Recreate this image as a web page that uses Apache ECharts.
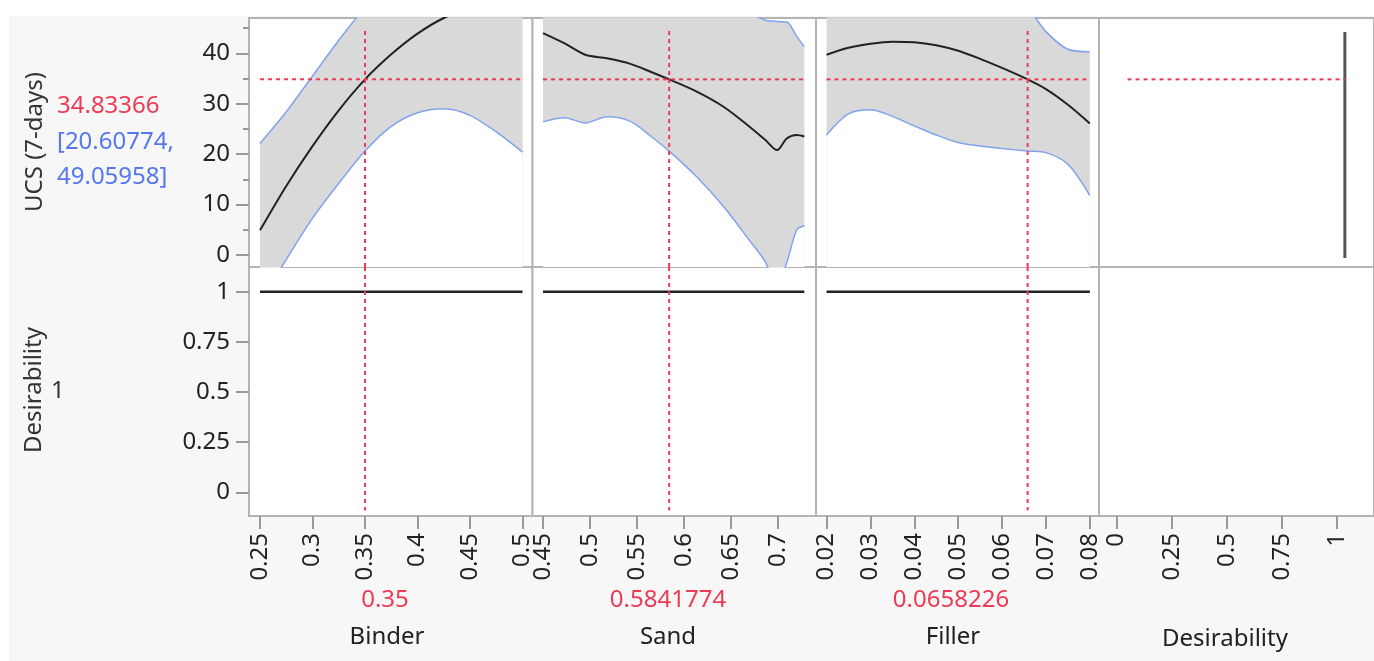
<!DOCTYPE html>
<html><head><meta charset="utf-8">
<script src="https://cdn.jsdelivr.net/npm/echarts@6/dist/echarts.min.js"></script>
<style>
html,body{margin:0;padding:0;background:#fff}
#wrap{position:relative;width:1374px;height:661px}
#bg{position:absolute;left:9px;top:16px;width:1365px;height:645px;background:#f7f7f7}
#c{position:absolute;left:0;top:0;width:1374px;height:661px}
</style>
</head><body><div id="wrap"><div id="bg"></div><div id="c"></div></div><script>
// ---------------- data ----------------
const factorNames = ['Binder', 'Sand', 'Filler', 'Desirability'];
const currentX = [0.35, 0.5841774, 0.0658226];
const currentXText = ['0.35', '0.5841774', '0.0658226'];
const currentUCS = 34.83366;
const ucsCI = [20.60774, 49.05958];
const currentDesirability = 1;

const binderX = [0.25, 0.275, 0.3, 0.325, 0.35, 0.375, 0.4, 0.425, 0.45, 0.475, 0.5];
const binderPred = [4.9, 13.7, 21.6, 28.7, 34.83, 39.8, 43.9, 47.0, 49.0, 50.2, 50.3];
const binderLower = [-9.2, -0.9, 7.3, 14.2, 20.61, 25.5, 28.2, 29.0, 27.7, 24.4, 20.4];
const binderUpper = [22.1, 28.4, 35.5, 42.6, 49.06, 54.1, 59.6, 65.0, 70.3, 76.0, 80.2];

const sandX = [0.45, 0.4725, 0.495, 0.518, 0.543, 0.565, 0.5842, 0.6135, 0.642, 0.67, 0.686, 0.699, 0.7093, 0.72, 0.728];
const sandPred = [44.0, 42.0, 39.7, 39.0, 37.9, 36.3, 34.83, 32.4, 29.4, 25.4, 22.9, 20.8, 23.1, 23.8, 23.5];
const sandLower = [26.4, 27.2, 26.2, 27.4, 26.5, 23.5, 20.61, 15.5, 9.6, 2.8, -1.2, -6.0, -1.5, 5.0, 5.8];
const sandUpper = [61.6, 56.8, 53.2, 50.6, 49.3, 49.1, 49.06, 49.3, 49.2, 48.0, 46.6, 46.3, 46.2, 43.3, 41.3];

const fillerX = [0.02, 0.025, 0.03, 0.035, 0.04, 0.045, 0.05, 0.055, 0.06, 0.0658, 0.07, 0.075, 0.08];
const fillerPred = [39.7, 41.1, 41.9, 42.3, 42.2, 41.6, 40.5, 38.9, 37.1, 34.83, 32.9, 29.8, 26.1];
const fillerLower = [23.8, 28.0, 28.8, 27.5, 25.6, 23.8, 22.3, 21.6, 21.1, 20.61, 20.3, 18.0, 11.8];
const fillerUpper = [55.6, 54.2, 55.0, 57.1, 58.8, 59.4, 58.7, 56.2, 53.1, 49.06, 44.3, 40.8, 40.3];

// desirability function (response vs desirability)
const desirFnX = [1.035, 1.035];
const desirFnY = [-0.6, 44.2];
const desirRefX = [0.05, 1.035];

// tick labels
const binderTicks = [0.25, 0.3, 0.35, 0.4, 0.45, 0.5];
const sandTicks = [0.45, 0.5, 0.55, 0.6, 0.65, 0.7];
const fillerTicks = [0.02, 0.03, 0.04, 0.05, 0.06, 0.07, 0.08];
const desirXTicks = [0, 0.25, 0.5, 0.75, 1];
const ucsTicks = [0, 10, 20, 30, 40];
const ucsMinorTicks = [5, 15, 25, 35, 45];
const desirYTicks = [0, 0.25, 0.5, 0.75, 1];

// ---------------- layout / style ----------------
const FONT = '"Noto Sans", sans-serif';
const FS = 24;
const RED = '#ee3a55';
const BLUE = '#5577f0';
const BANDLINE = '#7fa3ee';
const FRAME = '#b4b4b4';
const TICK = '#999999';
const colLeft = [249, 532.5, 816, 1099];
const colWidth = 283.5;
const rowTop = [18, 267];
const rowHeight = 249;
const xRange = [[0.2395, 0.5095], [0.4388, 0.7404], [0.0176, 0.0822], [-0.0793, 1.167]];
const yRange = [[-2.38, 47.0], [-0.118, 1.123]];

const cols = [
  {x: binderX, pred: binderPred, lo: binderLower, up: binderUpper, ticks: binderTicks},
  {x: sandX, pred: sandPred, lo: sandLower, up: sandUpper, ticks: sandTicks},
  {x: fillerX, pred: fillerPred, lo: fillerLower, up: fillerUpper, ticks: fillerTicks},
  {ticks: desirXTicks}
];

const grid = [], xAxis = [], yAxis = [], series = [];
for (let r = 0; r < 2; r++) {
  for (let c = 0; c < 4; c++) {
    grid.push({left: colLeft[c], top: rowTop[r], width: colWidth, height: rowHeight,
      show: true, backgroundColor: '#fff', borderColor: FRAME, borderWidth: 2, containLabel: false});
    const gi = r * 4 + c;
    if (r === 0) {
      xAxis.push({gridIndex: gi, type: 'value', position: 'bottom', min: xRange[c][0], max: xRange[c][1], show: false,
        axisLine: {onZero: false}});
    } else {
      xAxis.push({gridIndex: gi, type: 'value', position: 'bottom', min: xRange[c][0], max: xRange[c][1],
        axisLine: {show: false, onZero: false}, splitLine: {show: false},
        axisTick: {show: true, customValues: cols[c].ticks, length: 13, lineStyle: {color: TICK, width: 2}},
        axisLabel: {show: true, customValues: cols[c].ticks, rotate: 90, margin: 17,
          fontSize: FS, fontFamily: FONT, color: '#222'}});
    }
    const yt = r === 0 ? ucsTicks : desirYTicks;
    if (c === 0) {
      yAxis.push({gridIndex: gi, type: 'value', position: 'left', min: yRange[r][0], max: yRange[r][1],
        axisLine: {show: false, onZero: false}, splitLine: {show: false},
        axisTick: {show: true, customValues: yt, length: 13, lineStyle: {color: TICK, width: 2}},
        axisLabel: {show: true, customValues: yt, margin: 19, fontSize: FS, fontFamily: FONT, color: '#222'}});
    } else {
      yAxis.push({gridIndex: gi, type: 'value', position: 'left', min: yRange[r][0], max: yRange[r][1], show: false,
        axisLine: {onZero: false}});
    }
  }
}
// minor ticks on UCS axis
yAxis.push({gridIndex: 0, type: 'value', position: 'left', offset: 0, min: yRange[0][0], max: yRange[0][1],
  axisLine: {show: false, onZero: false}, splitLine: {show: false}, axisLabel: {show: false},
  axisTick: {show: true, customValues: ucsMinorTicks, length: 6, lineStyle: {color: TICK, width: 2}}});

const pairs = (xs, ys) => xs.map((v, i) => [v, ys[i]]);
const base = {type: 'line', symbol: 'none', silent: true, animation: false, smooth: 0.3};

for (let c = 0; c < 3; c++) {
  const d = cols[c];
  const x0 = d.x[0], x1 = d.x[d.x.length - 1];
  // upper limit: gray fill down to the axis bottom
  series.push(Object.assign({}, base, {xAxisIndex: c, yAxisIndex: c, data: pairs(d.x, d.up),
    lineStyle: {color: BANDLINE, width: 1.5}, areaStyle: {color: '#d9d9d9', opacity: 1, origin: 'start'}, z: 2}));
  // lower limit: white fill down to the axis bottom (cuts the band)
  series.push(Object.assign({}, base, {xAxisIndex: c, yAxisIndex: c, data: pairs(d.x, d.lo),
    lineStyle: {color: BANDLINE, width: 1.5}, areaStyle: {color: '#ffffff', opacity: 1, origin: 'start'}, z: 3}));
  series.push(Object.assign({}, base, {xAxisIndex: c, yAxisIndex: c, data: pairs(d.x, d.pred),
    lineStyle: {color: '#222', width: 2}, z: 4}));
  series.push(Object.assign({}, base, {smooth: false, xAxisIndex: c, yAxisIndex: c,
    data: [[x0, currentUCS], [x1, currentUCS]], lineStyle: {color: RED, width: 2, type: [4, 4]}, z: 5}));
  series.push(Object.assign({}, base, {smooth: false, xAxisIndex: c, yAxisIndex: c,
    data: [[currentX[c], yRange[0][0]], [currentX[c], 45]], lineStyle: {color: RED, width: 2, type: [4, 4]}, z: 5}));
  // bottom row
  series.push(Object.assign({}, base, {smooth: false, xAxisIndex: 4 + c, yAxisIndex: 4 + c,
    data: [[x0, currentDesirability], [x1, currentDesirability]], lineStyle: {color: '#222', width: 2.5}, z: 4}));
  series.push(Object.assign({}, base, {smooth: false, xAxisIndex: 4 + c, yAxisIndex: 4 + c,
    data: [[currentX[c], yRange[1][1]], [currentX[c], -0.09]], lineStyle: {color: RED, width: 2, type: [4, 4]}, z: 5}));
}
// desirability column (top)
series.push(Object.assign({}, base, {smooth: false, xAxisIndex: 3, yAxisIndex: 3,
  data: pairs(desirRefX, [currentUCS, currentUCS]), lineStyle: {color: RED, width: 2, type: [4, 4]}, z: 5}));
series.push(Object.assign({}, base, {smooth: false, xAxisIndex: 3, yAxisIndex: 3,
  data: pairs(desirFnX, desirFnY), lineStyle: {color: '#555', width: 3}, z: 4}));

function txt(text, x, y, color, opts) {
  return Object.assign({type: 'text', x: x, y: y, silent: true, z: 10,
    style: {text: text, fill: color, font: FS + 'px ' + FONT, fontSize: FS, fontFamily: FONT,
      textAlign: 'center', textVerticalAlign: 'middle', align: 'center', verticalAlign: 'middle'}}, opts || {});
}
function ltxt(text, x, y, color) {
  const t = txt(text, x, y, color);
  t.style.textAlign = 'left'; t.style.align = 'left';
  return t;
}
const graphic = [
  txt('UCS (7-days)', 35, 142, '#333', {rotation: Math.PI / 2}),
  ltxt(currentUCS.toFixed(5), 57, 106, RED),
  ltxt('[' + ucsCI[0].toFixed(5) + ',', 57, 142, BLUE),
  ltxt(ucsCI[1].toFixed(5) + ']', 57, 177, BLUE),
  txt('Desirability', 34, 390, '#333', {rotation: Math.PI / 2}),
  ltxt(String(currentDesirability), 51, 391, '#333'),
  txt(currentXText[0], 385, 600, RED),
  txt(currentXText[1], 668, 600, RED),
  txt(currentXText[2], 951, 600, RED),
  txt(factorNames[0], 387, 637, '#222'),
  txt(factorNames[1], 668, 637, '#222'),
  txt(factorNames[2], 953, 637, '#222'),
  txt(factorNames[3], 1225, 639, '#222')
];

const chart = echarts.init(document.getElementById('c'), null, {renderer: 'canvas'});
chart.setOption({animation: false, grid, xAxis, yAxis, series, graphic});
</script></body></html>
